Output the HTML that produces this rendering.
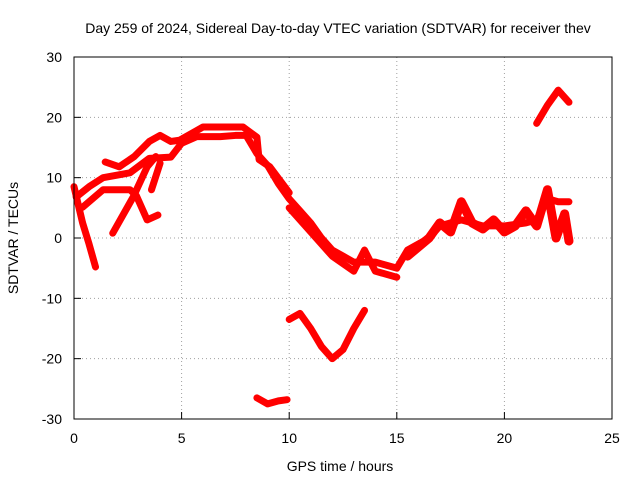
<!DOCTYPE html>
<html><head><meta charset="utf-8"><style>
body{margin:0;background:#fff;}
svg{font-family:"Liberation Sans",sans-serif;font-size:14px;}
</style></head><body>
<svg width="640" height="480" id="c">
<text x="338" y="33" text-anchor="middle">Day 259 of 2024, Sidereal Day-to-day VTEC variation (SDTVAR) for receiver thev</text>
<text x="340" y="471" text-anchor="middle">GPS time / hours</text>
<text transform="translate(18,238) rotate(-90)" text-anchor="middle">SDTVAR / TECUs</text>
<g id="grid"></g><g id="series"></g>
<rect x="74" y="57" width="538" height="362" fill="none" stroke="#000"/>
</svg>
<script>
const xTicks=[0,5,10,15,20,25];
const yTicks=[-30,-20,-10,0,10,20,30];
const trackA=[[0.1,6.8],[0.7,8.5],[1.35,10],[2.6,10.8],[3.5,13.2],[4.5,13.4],[5,15.7],[5.7,16.8],[6.8,16.8],[7.5,17],[8,17],[8.5,14],[9,12],[9.5,9],[10,6.5],[10.5,4.5],[11,2.5],[11.5,0],[12,-2],[12.5,-3],[13,-4],[14,-4],[15,-5],[15.5,-2],[16,-1],[16.5,0],[17,2],[17.5,2.5],[18,3],[19,2],[20,2],[21,2.5],[21.5,3],[22,6.5],[22.5,6],[23,6]];
const trackB=[[1.45,12.6],[2.1,11.8],[2.8,13.5],[3.5,16],[4,17],[4.5,16],[4.9,16.2],[6,18.4],[6.9,18.4],[7.85,18.4],[8.5,16.7],[8.6,13],[9.1,11.8],[10,7.5]];
const trackC=[[0.4,5.1],[1.35,8],[2.6,8],[2.9,7],[3.4,3],[3.9,3.8]];
const trackD=[[0,8.5],[0.4,2.5],[0.7,-1],[1,-4.8]];
const trackE=[[1.8,0.8],[2.75,6.8],[3.4,11.8],[3.8,13.5]];
const trackE2=[[3.6,8],[4,12.4]];
const trackF=[[10,-13.5],[10.5,-12.5],[11,-15],[11.5,-18],[12,-20],[12.5,-18.5],[13,-15],[13.5,-12]];
const trackG=[[8.5,-26.5],[9,-27.5],[9.5,-27],[9.9,-26.8]];
const trackH=[[21.5,19],[22,22],[22.5,24.5],[23,22.5]];
const trackI=[[10,5],[11,1],[12,-3],[13,-5.5],[13.5,-2],[14,-5.5],[15,-6.5]];
const trackJ=[[15.5,-3],[16.5,0],[17,2.5],[17.5,1],[18,6],[18.5,2.5],[19,1.5],[19.5,3],[20,1],[20.5,2],[21,4.5],[21.5,2],[22,8],[22.4,0],[22.8,4],[23,-0.5]];
const tracks=[trackA,trackB,trackC,trackD,trackE,trackE2,trackF,trackG,trackH,trackI,trackJ];
const X=v=>74+v*538/25, Y=v=>238-v*362/60;
const NS='http://www.w3.org/2000/svg';
const g=document.getElementById('grid'), s=document.getElementById('series');
function mk(tag,at,parent){const e=document.createElementNS(NS,tag);for(const k in at)e.setAttribute(k,at[k]);parent.appendChild(e);return e;}
xTicks.forEach(t=>{
 if(t>0&&t<25){const l=mk('line',{x1:X(t),x2:X(t),y1:57,y2:419,stroke:'#a0a0a0','stroke-dasharray':'1,3'},g);
 
 }
 const tk=mk('line',{x1:X(t),x2:X(t),y1:419,y2:412,stroke:'#000'},g);
 
 
 const tx=mk('text',{x:X(t),y:443,'text-anchor':'middle'},g);tx.textContent=t;
 
 
});
yTicks.forEach(t=>{
 if(t>-30&&t<30){const l=mk('line',{x1:74,x2:612,y1:Y(t),y2:Y(t),stroke:'#a0a0a0','stroke-dasharray':'1,3'},g);
 
 }
 const tk=mk('line',{x1:74,x2:81,y1:Y(t),y2:Y(t),stroke:'#000'},g);
 
 
 const tx=mk('text',{x:62,y:Y(t)+5,'text-anchor':'end'},g);tx.textContent=t;
 
 
});
tracks.forEach(tr=>{
 const w=(tr===trackJ)?9:7;
 const p=mk('polyline',{points:tr.map(d=>X(d[0])+','+Y(d[1])).join(' '),fill:'none',stroke:'#ff0000','stroke-width':w,'stroke-linejoin':'round','stroke-linecap':'round'},s);
 
 
});
</script>
</body></html>
